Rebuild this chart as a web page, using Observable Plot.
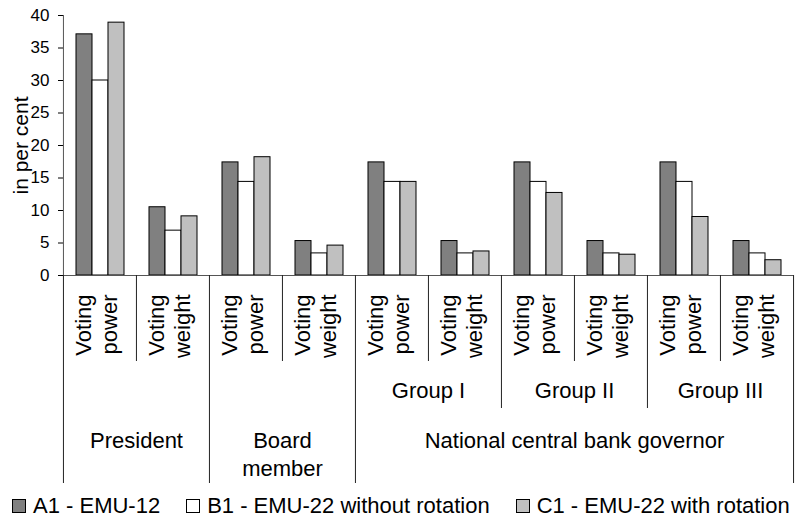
<!DOCTYPE html>
<html><head><meta charset="utf-8">
<script src="https://cdn.jsdelivr.net/npm/d3@7"></script>
<script src="https://cdn.jsdelivr.net/npm/@observablehq/plot@0.6"></script>
<style>
body{margin:0;background:#fff;font-family:"Liberation Sans",Arial,sans-serif;}
#legend{display:flex;align-items:center;height:27px;padding-top:2px;padding-left:12px;font-size:22px;color:#000;white-space:nowrap;}
.item{display:flex;align-items:center;margin-right:26px;}
.sw{width:12px;height:12px;border:1px solid #000;margin-right:7px;box-sizing:content-box;}
</style></head><body>
<div id="chart"></div><div id="legend"></div>
<script>
// ---- data ----
const roles = ["President","President","Board member","Board member",
  "National central bank governor","National central bank governor","National central bank governor",
  "National central bank governor","National central bank governor","National central bank governor"];
const groups = ["","","","","Group I","Group I","Group II","Group II","Group III","Group III"];
const measures = ["Voting power","Voting weight","Voting power","Voting weight","Voting power",
  "Voting weight","Voting power","Voting weight","Voting power","Voting weight"];
const seriesNames = ["A1 - EMU-12","B1 - EMU-22 without rotation","C1 - EMU-22 with rotation"];
const seriesColors = ["#808080","#ffffff","#c0c0c0"];
const a1Values = [37.1,10.5,17.4,5.3,17.4,5.3,17.4,5.3,17.4,5.3];
const b1Values = [30.0,6.9,14.4,3.4,14.4,3.4,14.4,3.4,14.4,3.4];
const c1Values = [38.9,9.1,18.2,4.6,14.4,3.7,12.7,3.2,9.0,2.35];
const yTicks = [0,5,10,15,20,25,30,35,40];
const yLabel = "in per cent";

// ---- layout ----
const W = 795, H = 490, mt = 15, mb = 215, ml = 62, mr = 2;
const plotH = H - mt - mb;
const facetW = (W - ml - mr) / roles.length;
const sepLen = {1: 86, 2: 133, 3: 208};

const keys = roles.map((r, i) => `${r}|${groups[i]}|${measures[i]}`);
const columns = keys.map((key, i) => ({key, role: roles[i], group: groups[i], measure: measures[i]}));
const seriesValues = [a1Values, b1Values, c1Values];
const rows = columns.flatMap((c, i) => seriesNames.map((s, j) => ({key: c.key, series: s, value: seriesValues[j][i]})));

function spans(arr) {
  const out = [];
  arr.forEach((v, i) => {
    if (i === 0 || arr[i - 1] !== v) out.push({id: v, start: i, n: 1});
    else out[out.length - 1].n++;
  });
  return out;
}
const groupLabels = spans(roles.map((r, i) => r + "|" + groups[i]))
  .filter(s => groups[s.start] !== "")
  .map(s => ({key: keys[s.start + s.n / 2 - 1], label: groups[s.start]}));
const roleSpans = spans(roles);

function level(i) {
  if (i === 0 || i === keys.length) return 3;
  if (roles[i] !== roles[i - 1]) return 3;
  if (groups[i] !== groups[i - 1]) return 2;
  return 1;
}
const boundaries = d3.range(keys.length + 1).map(i => ({
  key: keys[Math.min(i, keys.length - 1)],
  side: i === keys.length ? 1 : -1,
  level: level(i)
}));

const sepMarks = [];
for (const lv of [1, 2, 3]) for (const side of [-1, 1]) {
  const data = boundaries.filter(b => b.level === lv && b.side === side);
  if (data.length) sepMarks.push(Plot.ruleX(data, {
    fx: "key", x: null, dx: side * facetW / 2,
    insetTop: plotH, insetBottom: -sepLen[lv], stroke: "#222", strokeWidth: 1
  }));
}

const roleMarks = roleSpans.map(s => Plot.text([{key: keys[s.start + s.n / 2 - 1], label: s.id}], {
  fx: "key", text: "label", frameAnchor: "bottom-right", textAnchor: "middle",
  lineAnchor: "top", dy: 152, fontSize: 22, lineHeight: 1.3,
  lineWidth: s.n * facetW * 0.8 / 22
}));

const chart = Plot.plot({
  width: W, height: H, marginTop: mt, marginBottom: mb, marginLeft: ml, marginRight: mr,
  style: {fontSize: "17px", fontFamily: "Liberation Sans, Arial, sans-serif", color: "#000", background: "#fff", overflow: "visible"},
  fx: {domain: keys, padding: 0, axis: null, label: null},
  x: {domain: seriesNames, paddingInner: 0, paddingOuter: 0.74, axis: null},
  y: {domain: [0, 40], ticks: yTicks, tickSize: 5, tickPadding: 9, label: null},
  color: {domain: seriesNames, range: seriesColors},
  marks: [
    Plot.barY(rows, {fx: "key", x: "series", y: "value", fill: "series", stroke: "#000", strokeWidth: 1}),
    Plot.ruleY([0], {stroke: "#555"}),
    Plot.ruleX([columns[0]], {fx: "key", x: null, dx: -facetW / 2, stroke: "#555"}),
    ...sepMarks,
    Plot.text(columns, {fx: "key", text: d => d.measure.replace(" ", "\n"), frameAnchor: "bottom",
      rotate: -90, textAnchor: "end", dx: 17, dy: 19, fontSize: 22, lineHeight: 1.2}),
    Plot.text(groupLabels, {fx: "key", text: "label", frameAnchor: "bottom-right", textAnchor: "middle",
      dy: 122, fontSize: 22}),
    ...roleMarks,
    Plot.text([{key: keys[0], label: yLabel}], {fx: "key", text: "label", frameAnchor: "left",
      textAnchor: "middle", rotate: -90, dx: -42, fontSize: 21})
  ]
});
document.getElementById("chart").appendChild(chart);

const legend = document.getElementById("legend");
seriesNames.forEach((name, i) => {
  const item = document.createElement("div");
  item.className = "item";
  const sw = document.createElement("span");
  sw.className = "sw";
  sw.style.background = seriesColors[i];
  const t = document.createElement("span");
  t.textContent = name;
  item.appendChild(sw); item.appendChild(t);
  legend.appendChild(item);
});
</script>
</body></html>
